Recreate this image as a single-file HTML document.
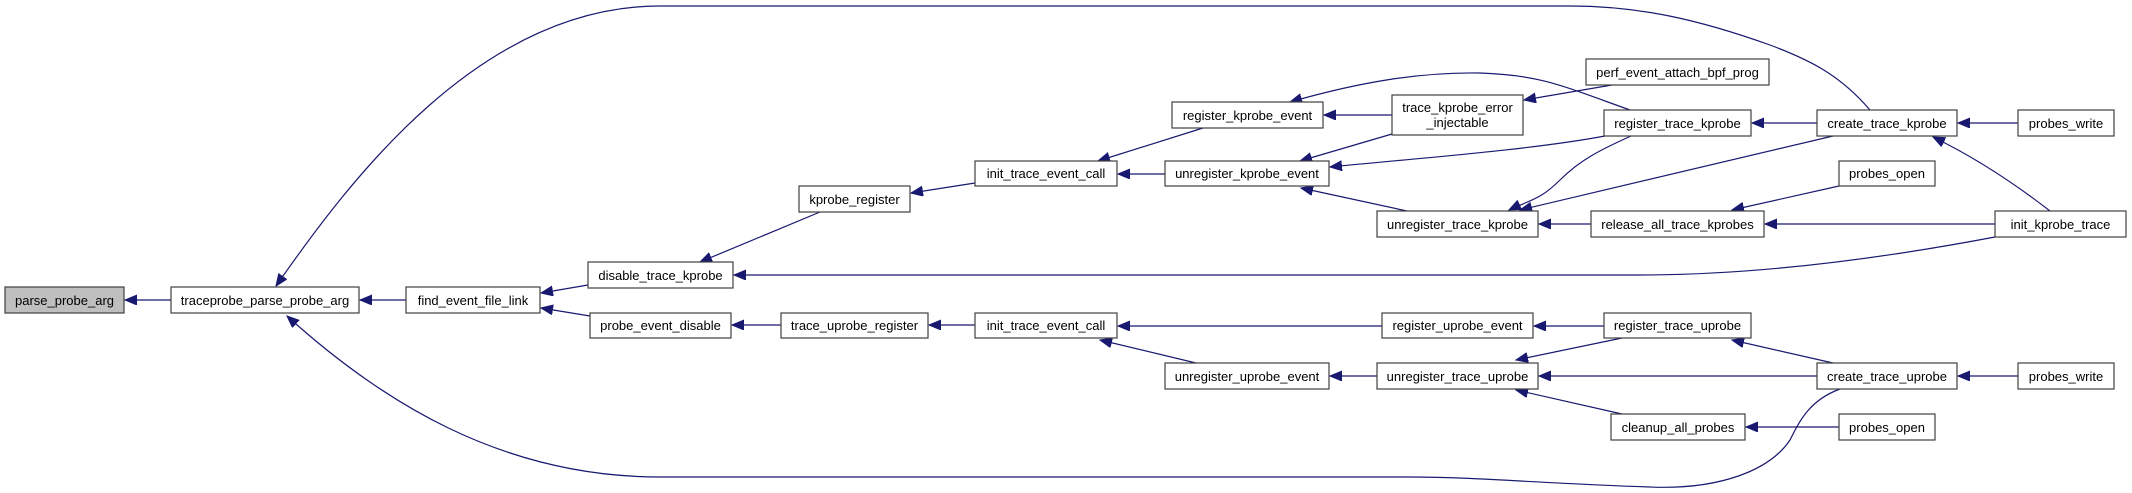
<!DOCTYPE html>
<html><head><meta charset="utf-8"><style>
html,body{margin:0;padding:0;background:#fff;}
svg{display:block;}
text{font-family:"Liberation Sans",sans-serif;font-size:13px;fill:#000;}
.b{fill:#fff;stroke:#404040;stroke-width:1.2;}
.e{fill:none;stroke:#191970;stroke-width:1.2;marker-end:url(#a);}
</style></head><body>
<svg width="2132" height="493" viewBox="0 0 2132 493" xmlns="http://www.w3.org/2000/svg">
<defs><marker id="a" markerUnits="userSpaceOnUse" markerWidth="14" markerHeight="12" refX="12" refY="5" orient="auto"><path d="M0,0 L12,5 L0,10 z" fill="#191970" stroke="#191970"/></marker></defs>
<!-- edges -->
<path class="e" d="M171,300 L125,300"/>
<path class="e" d="M406,300 L360,300"/>
<path class="e" d="M588,285 L541,293"/>
<path class="e" d="M590,316 L541,308"/>
<path class="e" d="M820,212 L700,262"/>
<path class="e" d="M975,183 L911,193"/>
<path class="e" d="M1203,128 L1098,161"/>
<path class="e" d="M1165,174 L1118,174"/>
<path class="e" d="M1392,115 L1324,115"/>
<path class="e" d="M1392,134 L1300,161"/>
<path class="e" d="M1630,110 C1560,85 1540,75 1480,73 C1420,72 1360,82 1290,102"/>
<path class="e" d="M1605,136 C1530,150 1420,158 1330,167"/>
<path class="e" d="M1407,211 L1301,188"/>
<path class="e" d="M1612,85 L1524,100"/>
<path class="e" d="M1817,123 L1752,123"/>
<path class="e" d="M1870,110 C1840,75 1810,60 1770,45 C1700,20 1640,6 1570,6 L660,6 C480,6 350,180 276,286"/>
<path class="e" d="M1631,136 C1600,150 1580,160 1560,180 C1540,200 1530,200 1509,210"/>
<path class="e" d="M1833,136 L1520,210"/>
<path class="e" d="M1591,224 L1539,224"/>
<path class="e" d="M1839,186 L1732,210"/>
<path class="e" d="M1995,224 L1765,224"/>
<path class="e" d="M2050,211 C2010,180 1970,155 1933,137"/>
<path class="e" d="M1995,237 C1900,255 1770,275 1640,275 L734,275"/>
<path class="e" d="M2018,123 L1958,123"/>
<path class="e" d="M781,325 L732,325"/>
<path class="e" d="M975,325 L929,325"/>
<path class="e" d="M1382,326 L1118,326"/>
<path class="e" d="M1196,363 L1100,340"/>
<path class="e" d="M1377,376 L1330,376"/>
<path class="e" d="M1604,326 L1534,326"/>
<path class="e" d="M1622,338 L1516,360"/>
<path class="e" d="M1833,363 L1732,340"/>
<path class="e" d="M1817,376 L1539,376"/>
<path class="e" d="M1622,414 L1516,390"/>
<path class="e" d="M1839,427 L1746,427"/>
<path class="e" d="M2018,376 L1958,376"/>
<path class="e" d="M1840,389 C1810,400 1800,420 1790,440 C1770,470 1720,490 1650,487 C1550,484 1480,477 1410,477 L660,477 C500,477 380,400 287,316"/>
<!-- nodes -->
<g>
<rect x="5" y="287" width="119" height="26" style="fill:#bfbfbf;stroke:#404040;stroke-width:1.2"/><text x="64.5" y="305" text-anchor="middle">parse_probe_arg</text>
<rect class="b" x="171" y="287" width="188" height="26"/><text x="265" y="305" text-anchor="middle">traceprobe_parse_probe_arg</text>
<rect class="b" x="406" y="287" width="134" height="26"/><text x="473" y="305" text-anchor="middle">find_event_file_link</text>
<rect class="b" x="588" y="262" width="145" height="26"/><text x="660.5" y="280" text-anchor="middle">disable_trace_kprobe</text>
<rect class="b" x="590" y="313" width="141" height="25"/><text x="660.5" y="330" text-anchor="middle">probe_event_disable</text>
<rect class="b" x="799" y="186" width="111" height="26"/><text x="854.5" y="204" text-anchor="middle">kprobe_register</text>
<rect class="b" x="975" y="161" width="142" height="25"/><text x="1046" y="178" text-anchor="middle">init_trace_event_call</text>
<rect class="b" x="1172" y="102" width="151" height="26"/><text x="1247.5" y="120" text-anchor="middle">register_kprobe_event</text>
<rect class="b" x="1165" y="161" width="164" height="25"/><text x="1247" y="178" text-anchor="middle">unregister_kprobe_event</text>
<rect class="b" x="781" y="313" width="147" height="25"/><text x="854.5" y="330" text-anchor="middle">trace_uprobe_register</text>
<rect class="b" x="975" y="313" width="142" height="25"/><text x="1046" y="330" text-anchor="middle">init_trace_event_call</text>
<rect class="b" x="1165" y="363" width="164" height="26"/><text x="1247" y="381" text-anchor="middle">unregister_uprobe_event</text>
<rect class="b" x="1392" y="95" width="131" height="40"/><text x="1457.5" y="112" text-anchor="middle">trace_kprobe_error</text><text x="1457.5" y="127" text-anchor="middle">_injectable</text>
<rect class="b" x="1586" y="59" width="183" height="26"/><text x="1677.5" y="77" text-anchor="middle">perf_event_attach_bpf_prog</text>
<rect class="b" x="1604" y="110" width="147" height="26"/><text x="1677.5" y="128" text-anchor="middle">register_trace_kprobe</text>
<rect class="b" x="1817" y="110" width="140" height="26"/><text x="1887" y="128" text-anchor="middle">create_trace_kprobe</text>
<rect class="b" x="2018" y="110" width="96" height="26"/><text x="2066" y="128" text-anchor="middle">probes_write</text>
<rect class="b" x="1839" y="161" width="96" height="25"/><text x="1887" y="178" text-anchor="middle">probes_open</text>
<rect class="b" x="1377" y="211" width="161" height="26"/><text x="1457.5" y="229" text-anchor="middle">unregister_trace_kprobe</text>
<rect class="b" x="1591" y="211" width="173" height="26"/><text x="1677.5" y="229" text-anchor="middle">release_all_trace_kprobes</text>
<rect class="b" x="1995" y="211" width="131" height="26"/><text x="2060.5" y="229" text-anchor="middle">init_kprobe_trace</text>
<rect class="b" x="1382" y="313" width="151" height="25"/><text x="1457.5" y="330" text-anchor="middle">register_uprobe_event</text>
<rect class="b" x="1604" y="313" width="147" height="25"/><text x="1677.5" y="330" text-anchor="middle">register_trace_uprobe</text>
<rect class="b" x="1377" y="363" width="161" height="26"/><text x="1457.5" y="381" text-anchor="middle">unregister_trace_uprobe</text>
<rect class="b" x="1817" y="363" width="140" height="26"/><text x="1887" y="381" text-anchor="middle">create_trace_uprobe</text>
<rect class="b" x="2018" y="363" width="96" height="26"/><text x="2066" y="381" text-anchor="middle">probes_write</text>
<rect class="b" x="1611" y="414" width="134" height="26"/><text x="1678" y="432" text-anchor="middle">cleanup_all_probes</text>
<rect class="b" x="1839" y="414" width="96" height="26"/><text x="1887" y="432" text-anchor="middle">probes_open</text>
</g>
</svg>
</body></html>
